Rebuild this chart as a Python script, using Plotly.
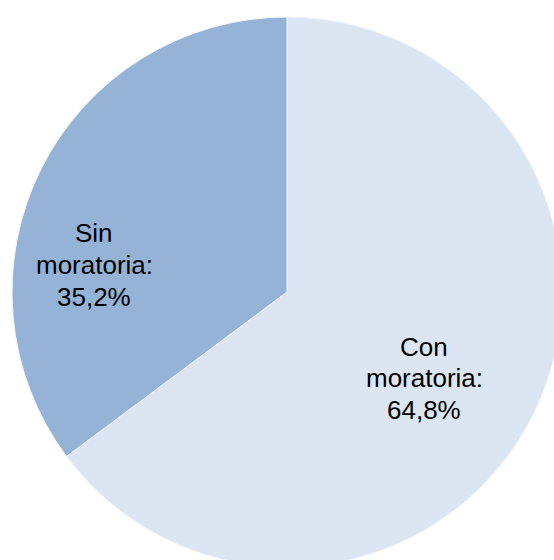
import plotly.graph_objects as go

# Share of cases, by moratoria status
labels = ["Con moratoria", "Sin moratoria"]
values = [64.8, 35.2]
colors = ["#DCE6F2", "#95B3D7"]

# Page geometry (pixels)
W, H = 562, 567
ML, MT = 12, 17
D = 550  # pie domain size

# Label anchors in pixel space (centre of the middle line) and line spacing
label_pos = {"Con moratoria": (424, 378), "Sin moratoria": (94, 265)}
line_gap = 31.5
font_size = 26

fig = go.Figure(
    go.Pie(
        labels=labels,
        values=values,
        sort=False,
        direction="clockwise",
        rotation=0,
        marker=dict(colors=colors, line=dict(color="#F2F5FA", width=1)),
        textinfo="none",
        hoverinfo="label+percent",
        showlegend=False,
    )
)


def fmt(v):
    return f"{v:.1f}".replace(".", ",") + "%"


annotations = []
for lab, val in zip(labels, values):
    first, second = lab.split(" ")
    lines = [first.capitalize(), second + ":", fmt(val)]
    px, py = label_pos[lab]
    for i, txt in enumerate(lines):
        yy = py + (i - 1) * line_gap
        annotations.append(
            dict(
                text=txt,
                x=(px - ML) / D,
                y=1 - (yy - MT) / D,
                xref="paper",
                yref="paper",
                xanchor="center",
                yanchor="middle",
                showarrow=False,
                font=dict(family="Liberation Sans, Arial, sans-serif", size=font_size, color="#000000"),
            )
        )

fig.update_layout(
    width=W,
    height=H,
    margin=dict(l=ML, r=0, t=MT, b=0, pad=0),
    paper_bgcolor="white",
    plot_bgcolor="white",
    annotations=annotations,
)

fig.write_html(
    "out.html",
    config={"displayModeBar": False},
    post_script="document.body.style.margin='0';document.body.style.overflow='hidden';document.documentElement.style.overflow='hidden';",
)
